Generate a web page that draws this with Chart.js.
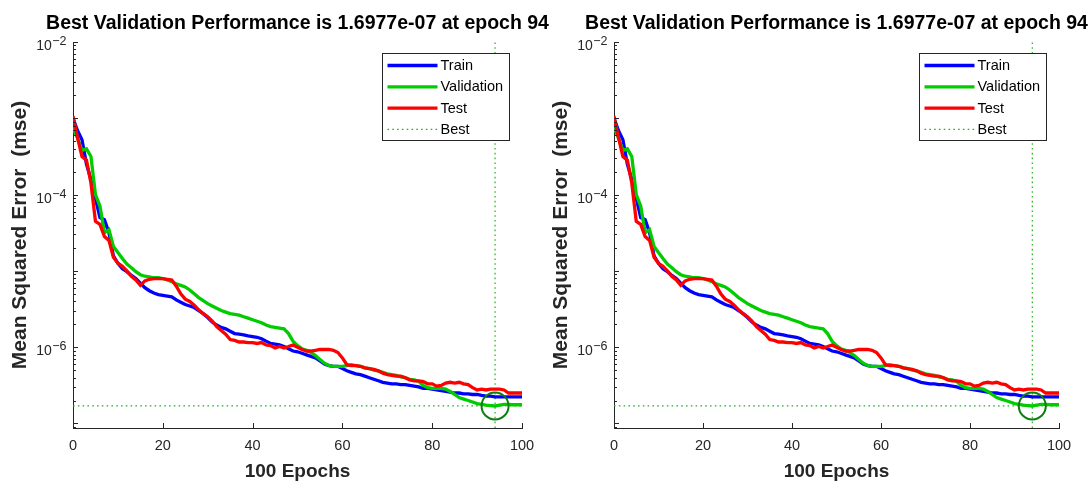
<!DOCTYPE html>
<html>
<head>
<meta charset="utf-8">
<script src="https://cdn.jsdelivr.net/npm/chart.js@4.4.0/dist/chart.umd.min.js"></script>
<style>
  html, body { margin: 0; padding: 0; background: #fff; overflow: hidden; }
  #wrap { position: relative; width: 1090px; height: 484px; overflow: hidden; }
  canvas { position: absolute; top: 0; }
  #left { left: 0; }
  #right { left: 541px; }
</style>
</head>
<body>
<div id="wrap">
  <canvas id="left" width="560" height="484"></canvas>
  <canvas id="right" width="560" height="484"></canvas>
</div>
<script>
// mse per epoch (0..100)
const trainPerf = [
  1.00e-3, 6.92e-4, 5.25e-4, 2.51e-4, 1.58e-4, 8.91e-5, 5.01e-5, 4.68e-5, 3.16e-5, 1.58e-5,
  1.26e-5, 1.07e-5, 9.77e-6, 8.71e-6, 7.94e-6, 6.92e-6, 6.03e-6, 5.50e-6, 5.13e-6, 4.90e-6,
  4.79e-6, 4.68e-6, 4.57e-6, 4.17e-6, 3.89e-6, 3.63e-6, 3.47e-6, 3.31e-6, 3.02e-6, 2.75e-6,
  2.45e-6, 2.14e-6, 1.95e-6, 1.82e-6, 1.74e-6, 1.62e-6, 1.51e-6, 1.48e-6, 1.45e-6, 1.41e-6,
  1.38e-6, 1.35e-6, 1.29e-6, 1.20e-6, 1.12e-6, 1.10e-6, 1.07e-6, 1.02e-6, 9.55e-7, 8.91e-7,
  8.71e-7, 8.32e-7, 7.94e-7, 7.59e-7, 7.24e-7, 6.61e-7, 6.03e-7, 5.75e-7, 5.62e-7, 5.62e-7,
  5.25e-7, 4.90e-7, 4.68e-7, 4.47e-7, 4.37e-7, 4.17e-7, 3.98e-7, 3.80e-7, 3.63e-7, 3.47e-7,
  3.39e-7, 3.31e-7, 3.31e-7, 3.24e-7, 3.24e-7, 3.16e-7, 3.09e-7, 3.02e-7, 2.88e-7, 2.88e-7,
  2.82e-7, 2.75e-7, 2.69e-7, 2.63e-7, 2.57e-7, 2.51e-7, 2.51e-7, 2.45e-7, 2.45e-7, 2.40e-7,
  2.40e-7, 2.34e-7, 2.29e-7, 2.29e-7, 2.24e-7, 2.24e-7, 2.24e-7, 2.24e-7, 2.24e-7, 2.24e-7,
  2.24e-7
];
const valPerf = [
  7.59e-4, 5.50e-4, 3.80e-4, 3.98e-4, 3.16e-4, 1.00e-4, 7.08e-5, 3.16e-5, 3.47e-5, 2.09e-5,
  1.74e-5, 1.45e-5, 1.23e-5, 1.10e-5, 9.77e-6, 8.91e-6, 8.51e-6, 8.32e-6, 8.13e-6, 8.13e-6,
  7.94e-6, 7.59e-6, 7.24e-6, 6.76e-6, 6.46e-6, 6.17e-6, 5.62e-6, 5.01e-6, 4.47e-6, 4.07e-6,
  3.72e-6, 3.47e-6, 3.24e-6, 3.02e-6, 2.88e-6, 2.75e-6, 2.69e-6, 2.63e-6, 2.51e-6, 2.40e-6,
  2.29e-6, 2.19e-6, 2.09e-6, 1.95e-6, 1.86e-6, 1.82e-6, 1.78e-6, 1.74e-6, 1.51e-6, 1.20e-6,
  1.05e-6, 9.55e-7, 9.12e-7, 8.51e-7, 7.76e-7, 6.92e-7, 6.17e-7, 5.75e-7, 5.62e-7, 5.62e-7,
  5.62e-7, 5.75e-7, 5.89e-7, 5.75e-7, 5.62e-7, 5.37e-7, 5.25e-7, 5.01e-7, 4.90e-7, 4.68e-7,
  4.47e-7, 4.37e-7, 4.27e-7, 4.07e-7, 3.98e-7, 3.80e-7, 3.72e-7, 3.55e-7, 3.16e-7, 2.95e-7,
  2.88e-7, 2.88e-7, 2.88e-7, 2.82e-7, 2.63e-7, 2.40e-7, 2.19e-7, 2.09e-7, 2.00e-7, 1.91e-7,
  1.82e-7, 1.78e-7, 1.74e-7, 1.72e-7, 1.6977e-7, 1.74e-7, 1.78e-7, 1.78e-7, 1.76e-7, 1.76e-7,
  1.76e-7
];
const testPerf = [
  1.07e-3, 5.62e-4, 3.16e-4, 2.82e-4, 1.41e-4, 4.47e-5, 4.07e-5, 2.82e-5, 2.51e-5, 1.51e-5,
  1.26e-5, 1.15e-5, 1.00e-5, 8.51e-6, 7.59e-6, 6.46e-6, 7.41e-6, 7.76e-6, 7.94e-6, 7.94e-6,
  7.94e-6, 7.76e-6, 7.59e-6, 6.31e-6, 5.01e-6, 4.27e-6, 3.98e-6, 3.55e-6, 3.09e-6, 2.75e-6,
  2.51e-6, 2.19e-6, 1.86e-6, 1.66e-6, 1.48e-6, 1.26e-6, 1.23e-6, 1.17e-6, 1.17e-6, 1.15e-6,
  1.15e-6, 1.12e-6, 1.15e-6, 1.07e-6, 1.05e-6, 9.77e-7, 1.02e-6, 9.77e-7, 1.02e-6, 1.07e-6,
  1.00e-6, 9.33e-7, 8.91e-7, 8.91e-7, 9.12e-7, 9.33e-7, 9.33e-7, 9.33e-7, 9.12e-7, 8.51e-7,
  7.24e-7, 5.89e-7, 5.75e-7, 5.75e-7, 5.62e-7, 5.37e-7, 5.25e-7, 5.13e-7, 4.90e-7, 4.57e-7,
  4.37e-7, 4.27e-7, 4.17e-7, 4.17e-7, 3.98e-7, 3.72e-7, 3.63e-7, 3.63e-7, 3.55e-7, 3.31e-7,
  3.31e-7, 3.09e-7, 3.16e-7, 3.39e-7, 3.47e-7, 3.39e-7, 3.47e-7, 3.31e-7, 3.24e-7, 2.95e-7,
  2.75e-7, 2.82e-7, 2.75e-7, 2.82e-7, 2.82e-7, 2.82e-7, 2.75e-7, 2.51e-7, 2.51e-7, 2.51e-7,
  2.51e-7
];
const bestEpoch = 94;
const bestPerf = 1.6977e-7;
const seriesNames = ['Train', 'Validation', 'Test', 'Best'];
const xTicks = [0, 20, 40, 60, 80, 100];
const yLabelExps = [-2, -4, -6];
const yMin = 8.73e-8;
const yMax = 1e-2;

const TITLE = 'Best Validation Performance is 1.6977e-07 at epoch 94';
const FONT = "'Liberation Sans', Arial, Helvetica, sans-serif";
const AXIS = '#262626';

const toXY = arr => arr.map((v, i) => ({ x: i, y: v }));

// MATLAB-ish decorations: title, inward ticks, 10^n labels, legend box
const matlabDeco = {
    id: 'matlabDeco',
    afterDatasetsDraw(chart) {
        const ctx = chart.ctx;
        const area = chart.chartArea;
        const xs = chart.scales.x;
        const ys = chart.scales.y;
        ctx.save();

        // inward tick marks
        ctx.strokeStyle = AXIS;
        ctx.lineWidth = 1;
        ctx.beginPath();
        for (let e = -8; e <= -2; e++) {
            for (let m = 1; m <= 9; m++) {
                const v = m * Math.pow(10, e);
                if (v < yMin || v > yMax * 1.0001) continue;
                const y = Math.round(ys.getPixelForValue(v)) + 0.5;
                const len = m === 1 ? 5 : 3;
                ctx.moveTo(area.left, y);
                ctx.lineTo(area.left + len, y);
            }
        }
        xTicks.forEach(t => {
            const x = Math.round(xs.getPixelForValue(t)) + 0.5;
            ctx.moveTo(x, area.bottom);
            ctx.lineTo(x, area.bottom - 5);
        });
        ctx.stroke();

        // y labels as 10 with a superscript exponent
        ctx.fillStyle = AXIS;
        ctx.textAlign = 'right';
        ctx.textBaseline = 'alphabetic';
        yLabelExps.forEach(e => {
            const y = ys.getPixelForValue(Math.pow(10, e));
            const expTxt = '\u2212' + Math.abs(e);
            const right = area.left - 6.5;
            ctx.font = '12.5px ' + FONT;
            const ew = ctx.measureText(expTxt).width;
            ctx.fillText(expTxt, right, y + 3);
            ctx.font = '14px ' + FONT;
            ctx.fillText('10', right - ew - 0.5, y + 8);
        });
        ctx.restore();
    },
    afterDraw(chart) {
        const ctx = chart.ctx;
        const area = chart.chartArea;
        ctx.save();

        // title, centred over the axes
        ctx.fillStyle = '#000';
        ctx.font = 'bold 19.5px ' + FONT;
        ctx.textAlign = 'center';
        ctx.textBaseline = 'alphabetic';
        ctx.fillText(TITLE, (area.left + area.right) / 2, 29);

        // legend
        const bw = 127, bh = 87;
        const bx = Math.round(area.right - 13 - bw) + 0.5;
        const by = Math.round(area.top + 11) + 0.5;
        ctx.fillStyle = '#fff';
        ctx.fillRect(bx, by, bw, bh);
        ctx.strokeStyle = AXIS;
        ctx.lineWidth = 1;
        ctx.strokeRect(bx, by, bw, bh);
        chart.data.datasets.slice(0, 4).forEach((ds, i) => {
            const y = by + 12 + 21.3 * i;
            ctx.beginPath();
            ctx.strokeStyle = ds.borderColor;
            ctx.lineWidth = ds.borderWidth;
            ctx.setLineDash(ds.borderDash || []);
            ctx.moveTo(bx + 5, y);
            ctx.lineTo(bx + 55, y);
            ctx.stroke();
            ctx.setLineDash([]);
            ctx.fillStyle = '#000';
            ctx.font = '14.5px ' + FONT;
            ctx.textAlign = 'left';
            ctx.textBaseline = 'middle';
            ctx.fillText(ds.label, bx + 58, y + 0.5);
        });
        ctx.restore();
    }
};

function makeChart(id, padRight) {
    const bestLine = { borderColor: '#22b022', borderWidth: 1.2, borderDash: [1.6, 3.2], pointRadius: 0, order: 4 };
    return new Chart(document.getElementById(id), {
        type: 'line',
        data: {
            datasets: [
                { label: seriesNames[0], data: toXY(trainPerf), borderColor: '#0000ff', borderWidth: 3.3, pointRadius: 0, order: 3 },
                { label: seriesNames[1], data: toXY(valPerf), borderColor: '#00cc00', borderWidth: 3.3, pointRadius: 0, order: 2 },
                { label: seriesNames[2], data: toXY(testPerf), borderColor: '#ff0000', borderWidth: 3.3, pointRadius: 0, order: 1 },
                Object.assign({ label: seriesNames[3], data: [{ x: 0, y: bestPerf }, { x: 100, y: bestPerf }] }, bestLine),
                Object.assign({ label: seriesNames[3], data: [{ x: bestEpoch, y: yMin }, { x: bestEpoch, y: yMax }] }, bestLine),
                {
                    label: seriesNames[3], data: [{ x: bestEpoch, y: bestPerf }], showLine: false,
                    pointRadius: 13.5, pointBorderWidth: 2, pointBorderColor: '#0c7f0c',
                    pointBackgroundColor: 'rgba(0,0,0,0)', order: 0
                }
            ]
        },
        options: {
            responsive: false,
            animation: false,
            events: [],
            layout: { padding: { left: 0, right: padRight, top: 42, bottom: 0 } },
            plugins: {
                legend: { display: false },
                tooltip: { enabled: false },
                title: { display: false }
            },
            scales: {
                x: {
                    type: 'linear',
                    min: 0,
                    max: 100,
                    afterBuildTicks: s => { s.ticks = xTicks.map(v => ({ value: v })); },
                    afterFit: s => { s.height = 56; },
                    grid: { display: false, drawTicks: false },
                    border: { display: true, color: AXIS, width: 1 },
                    ticks: { color: AXIS, font: { family: FONT, size: 14.5 }, padding: 9.3, maxRotation: 0 },
                    title: {
                        display: true, text: '100 Epochs', color: AXIS,
                        font: { family: FONT, size: 19, weight: 'bold' },
                        padding: { top: 0, bottom: 0.5 }
                    }
                },
                y: {
                    type: 'logarithmic',
                    min: yMin,
                    max: yMax,
                    afterFit: s => { s.width = 73; },
                    grid: { display: false, drawTicks: false },
                    border: { display: true, color: AXIS, width: 1 },
                    ticks: { display: false },
                    title: {
                        display: true, text: 'Mean Squared Error  (mse)', color: AXIS,
                        font: { family: FONT, size: 21, weight: 'bold' },
                        padding: { top: 7.5, bottom: 0 }
                    }
                }
            }
        },
        plugins: [matlabDeco]
    });
}

makeChart('left', 38);   // axes 73..522
makeChart('right', 42);  // axes 614..1059
</script>
</body>
</html>
